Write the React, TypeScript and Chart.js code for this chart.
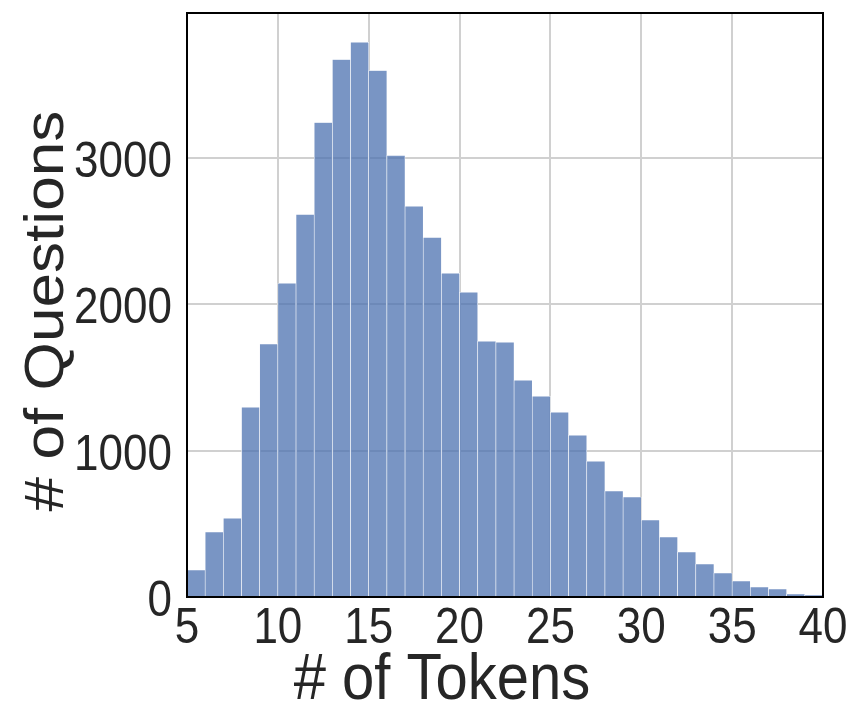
import React, { useEffect, useRef } from "react";
import { Chart, registerables } from "chart.js";

Chart.register(...registerables);

const BIN_STARTS = [5, 6, 7, 8, 9, 10, 11, 12, 13, 14, 15, 16, 17, 18, 19, 20, 21, 22, 23, 24, 25, 26, 27, 28, 29, 30, 31, 32, 33, 34, 35, 36, 37, 38, 39];
const COUNTS = [184, 444, 539, 1297, 1729, 2143, 2614, 3242, 3672, 3790, 3597, 3017, 2669, 2457, 2212, 2082, 1747, 1741, 1481, 1372, 1263, 1106, 928, 724, 683, 526, 410, 307, 225, 164, 109, 68, 55, 20, 14];
const X_TICKS = [5, 10, 15, 20, 25, 30, 35, 40];
const Y_TICKS = [0, 1000, 2000, 3000];
const X_LABEL = "# of Tokens";
const Y_LABEL = "# of Questions";

const FONT = "'Liberation Sans', Arial, Helvetica, sans-serif";
const TEXT = "#262626";
const STRETCH = 1.13;

const framePlugin = {
  id: "frameAndText",
  afterDatasetsDraw(chart: any) {
    const { ctx, chartArea } = chart;
    ctx.save();
    ctx.strokeStyle = "#000000";
    ctx.lineWidth = 2;
    ctx.strokeRect(chartArea.left, chartArea.top, chartArea.right - chartArea.left, chartArea.bottom - chartArea.top);
    ctx.restore();

    const xs = chart.scales.x;
    const ys = chart.scales.y;
    ctx.save();
    ctx.fillStyle = TEXT;
    ctx.textBaseline = "alphabetic";

    // x tick labels
    ctx.font = `44px ${FONT}`;
    ctx.textAlign = "center";
    for (const v of X_TICKS) {
      const px = xs.getPixelForValue(v);
      ctx.save();
      ctx.translate(px, chartArea.bottom + 46);
      ctx.scale(1, STRETCH);
      ctx.fillText(String(v), 0, 0);
      ctx.restore();
    }

    // y tick labels
    ctx.textAlign = "right";
    for (const v of Y_TICKS) {
      const py = ys.getPixelForValue(v);
      ctx.save();
      ctx.translate(chartArea.left - 15, py + 19);
      ctx.scale(1, STRETCH);
      ctx.fillText(String(v), 0, 0);
      ctx.restore();
    }

    // x title
    ctx.font = `58px ${FONT}`;
    ctx.textAlign = "center";
    ctx.save();
    ctx.translate(442, 699);
    ctx.scale(1, STRETCH);
    ctx.fillText(X_LABEL, 0, 0);
    ctx.restore();

    // y title
    ctx.font = `55px ${FONT}`;
    ctx.save();
    ctx.translate(63, 311);
    ctx.scale(1, STRETCH);
    ctx.rotate(-Math.PI / 2);
    ctx.fillText(Y_LABEL, 0, 0);
    ctx.restore();

    ctx.restore();
  },
};

export default function App() {
  const ref = useRef<HTMLCanvasElement | null>(null);
  useEffect(() => {
    if (!ref.current) return;
    const chart = new Chart(ref.current, {
      type: "bar",
      data: {
        datasets: [
          {
            data: BIN_STARTS.map((b, i) => ({ x: b + 0.5, y: COUNTS[i] })),
            backgroundColor: "rgba(76,114,176,0.75)",
            borderColor: "#ffffff",
            borderWidth: 0.6,
            barPercentage: 1,
            categoryPercentage: 1,
          },
        ],
      },
      options: {
        animation: false,
        responsive: true,
        maintainAspectRatio: false,
        layout: { padding: { top: 13, right: 41, left: 0, bottom: 0 } },
        plugins: { legend: { display: false }, tooltip: { enabled: false } },
        scales: {
          x: {
            type: "linear",
            min: 5,
            max: 40,
            offset: false,
            grid: { offset: false, color: "#d0d0d0", lineWidth: 2, drawTicks: false },
            border: { display: false },
            ticks: { display: false },
            afterBuildTicks: (s: any) => {
              s.ticks = X_TICKS.map((v) => ({ value: v }));
            },
            afterFit: (s: any) => {
              s.height = 123;
              s.paddingLeft = 0;
              s.paddingRight = 0;
            },
          },
          y: {
            min: 0,
            max: 3990,
            grid: { color: "#d0d0d0", lineWidth: 2, drawTicks: false },
            border: { display: false },
            ticks: { display: false },
            afterBuildTicks: (s: any) => {
              s.ticks = Y_TICKS.map((v) => ({ value: v }));
            },
            afterFit: (s: any) => {
              s.width = 187;
              s.paddingTop = 0;
              s.paddingBottom = 0;
            },
          },
        },
      },
      plugins: [framePlugin],
    });
    return () => chart.destroy();
  }, []);
  return (
    <div style={{ position: "absolute", left: 0, top: 0, width: 864, height: 720, background: "#ffffff" }}>
      <canvas ref={ref} />
    </div>
  );
}
